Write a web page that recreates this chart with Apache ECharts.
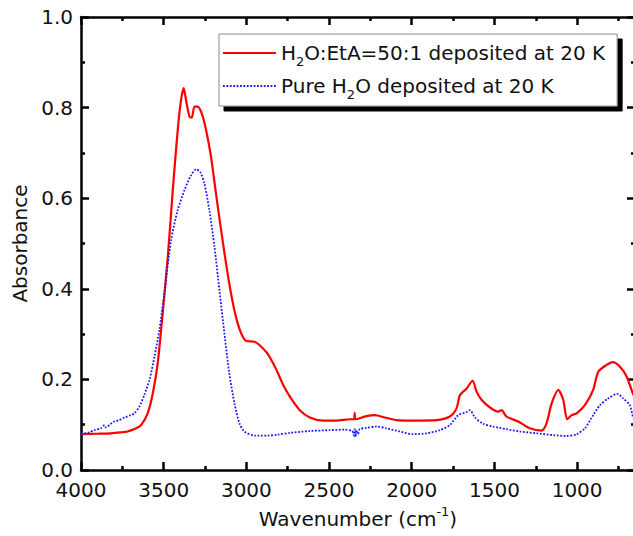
<!DOCTYPE html>
<html>
<head>
<meta charset="utf-8">
<script src="https://cdn.jsdelivr.net/npm/echarts@6/dist/echarts.min.js"></script>
<style>
html,body{margin:0;padding:0;background:#fff;}
#chart{width:633px;height:536px;}
</style>
</head>
<body>
<div id="chart"></div>
<script>
// ---- data ----
const seriesNames = ['H2O:EtA=50:1 deposited at 20 K', 'Pure H2O deposited at 20 K'];

const redWavenumber = [4000,3900,3819,3760,3718,3667,3637,3597,3566,3536,3506,3475,3445,3415,3395,3379,3365,3344,3330,3314,3294,3270,3244,3214,3184,3153,3123,3093,3063,3032,3002,2951,2921,2881,2860,2818,2778,2737,2677,2616,2536,2455,2374,2350,2345,2340,2274,2223,2163,2092,2012,1850,1770,1729,1709,1668,1632,1608,1578,1527,1477,1457,1427,1356,1286,1215,1185,1154,1114,1084,1060,1033,1003,953,903,872,822,785,741,700,663,650];
const redAbsorbance = [0.079,0.080,0.081,0.083,0.085,0.092,0.099,0.125,0.169,0.236,0.346,0.471,0.618,0.751,0.817,0.843,0.817,0.780,0.778,0.802,0.802,0.787,0.751,0.692,0.611,0.530,0.456,0.390,0.338,0.302,0.285,0.283,0.276,0.261,0.250,0.221,0.188,0.162,0.132,0.116,0.109,0.109,0.112,0.112,0.126,0.112,0.119,0.121,0.116,0.110,0.109,0.110,0.118,0.136,0.165,0.180,0.197,0.173,0.155,0.138,0.129,0.132,0.118,0.107,0.092,0.087,0.103,0.147,0.177,0.155,0.112,0.121,0.125,0.143,0.177,0.217,0.232,0.238,0.228,0.206,0.169,0.160];

const blueWavenumber = [4000,3950,3919,3880,3858,3850,3820,3798,3770,3737,3700,3677,3647,3617,3586,3556,3526,3496,3455,3415,3374,3334,3304,3278,3254,3224,3193,3163,3133,3103,3072,3042,3012,2951,2871,2810,2737,2616,2495,2405,2360,2350,2345,2340,2335,2325,2315,2274,2213,2153,2072,1992,1911,1830,1770,1719,1668,1648,1618,1568,1508,1427,1346,1245,1145,1064,1003,953,903,862,812,757,721,681,663,650];
const blueAbsorbance = [0.079,0.083,0.088,0.092,0.099,0.094,0.102,0.107,0.110,0.116,0.121,0.125,0.140,0.166,0.199,0.250,0.309,0.390,0.508,0.574,0.618,0.651,0.664,0.657,0.633,0.574,0.493,0.397,0.302,0.213,0.147,0.103,0.085,0.076,0.076,0.078,0.082,0.086,0.088,0.089,0.086,0.076,0.090,0.073,0.088,0.079,0.090,0.093,0.096,0.092,0.085,0.079,0.081,0.088,0.099,0.121,0.128,0.132,0.116,0.102,0.096,0.090,0.085,0.081,0.077,0.075,0.079,0.092,0.121,0.143,0.158,0.168,0.158,0.143,0.118,0.110];

const xMajorTicks = [1000,1500,2000,2500,3000,3500,4000];
const xMinorTicks = [750,1250,1750,2250,2750,3250,3750];
const xMin = 650, xMax = 4000;
const yMin = 0, yMax = 1, yStep = 0.2;

// ---- chart ----
const FONT = 'DejaVu Sans';
const black = '#000';
const TW = 2.5;
const tickStyle = {color:black, width:TW};

function pairs(xs, ys){ return xs.map((x,i)=>[x, ys[i]]); }

function xAx(pos, opts){
  return Object.assign({
    type:'value', position:pos, min:xMin, max:xMax, inverse:true, gridIndex:0,
    axisLine:{show:false, onZero:false, lineStyle:{color:black, width:TW}},
    axisTick:{show:false}, axisLabel:{show:false}, splitLine:{show:false}
  }, opts);
}
function yAx(pos, opts){
  return Object.assign({
    type:'value', position:pos, min:yMin, max:yMax, interval:yStep, gridIndex:0,
    axisLine:{show:true, onZero:false, lineStyle:{color:black, width:TW}},
    axisTick:{show:true, inside:true, length:8, lineStyle:tickStyle},
    minorTick:{show:true, splitNumber:2, length:4, lineStyle:tickStyle},
    axisLabel:{show:false}, splitLine:{show:false}, minorSplitLine:{show:false}
  }, opts);
}
function ticks(len, vals){
  return {show:true, inside:true, length:len, lineStyle:tickStyle, customValues:vals};
}

const chart = echarts.init(document.getElementById('chart'), null, {renderer:'svg'});
const option = {
  animation:false,
  backgroundColor:'#fff',
  grid:{left:81, right:-2, top:17, bottom:66, containLabel:false, outerBoundsMode:'none'},
  legend:{
    orient:'vertical', left:219, top:34,
    padding:[7,12,5,3], itemGap:6, itemWidth:53, itemHeight:14,
    backgroundColor:'#fff', borderColor:'#8a8a8a', borderWidth:1,
    shadowColor:'#000', shadowBlur:0, shadowOffsetX:5, shadowOffsetY:5,
    itemStyle:{opacity:0},
    data:seriesNames,
    formatter:function(name){ return name.replace(/H2O/g, 'H{sub|2}O'); },
    textStyle:{
      fontFamily:FONT, fontSize:20, color:'#111', lineHeight:24,
      rich:{ sub:{fontFamily:FONT, fontSize:13, color:'#111', verticalAlign:'bottom', lineHeight:14, padding:[0,0,-3,0]} }
    }
  },
  xAxis:[
    xAx('bottom', {
      axisLine:{show:true, onZero:false, lineStyle:{color:black, width:TW}},
      axisTick:ticks(8, xMajorTicks),
      name:'Wavenumber (cm{sup|-1})', nameLocation:'middle', nameGap:38,
      nameTextStyle:{fontFamily:FONT, fontSize:20, color:'#111',
        rich:{sup:{fontFamily:FONT, fontSize:13, color:'#111', verticalAlign:'top', padding:[-4,0,0,0]}}},
      axisLabel:{show:true, margin:10, fontFamily:FONT, fontSize:20, color:'#111', customValues:xMajorTicks, formatter:v=>String(v)}
    }),
    xAx('bottom', {axisTick:ticks(4, xMinorTicks)}),
    xAx('top', {axisLine:{show:true, onZero:false, lineStyle:{color:black, width:TW}}, axisTick:ticks(8, xMajorTicks)}),
    xAx('top', {axisTick:ticks(4, xMinorTicks)})
  ],
  yAxis:[
    yAx('left', {
      name:'Absorbance', nameLocation:'middle', nameGap:50, nameRotate:90,
      nameTextStyle:{fontFamily:FONT, fontSize:20, color:'#111'},
      axisLabel:{show:true, margin:8, fontFamily:FONT, fontSize:20, color:'#111', formatter:v=>v.toFixed(1)}
    }),
    yAx('right', {})
  ],
  series:[
    {
      name:seriesNames[0], type:'line', xAxisIndex:0, yAxisIndex:0,
      data:pairs(redWavenumber, redAbsorbance), symbol:'none', smooth:0.25,
      lineStyle:{color:'#ff0000', width:2.2}, itemStyle:{color:'#ff0000'}, z:2
    },
    {
      name:seriesNames[1], type:'line', xAxisIndex:0, yAxisIndex:0,
      data:pairs(blueWavenumber, blueAbsorbance), symbol:'none', smooth:0.25,
      lineStyle:{color:'#1a1aff', width:1.8, type:[1.8,1.6]}, itemStyle:{color:'#1a1aff'}, z:3
    }
  ]
};
chart.setOption(option);
</script>
</body>
</html>
